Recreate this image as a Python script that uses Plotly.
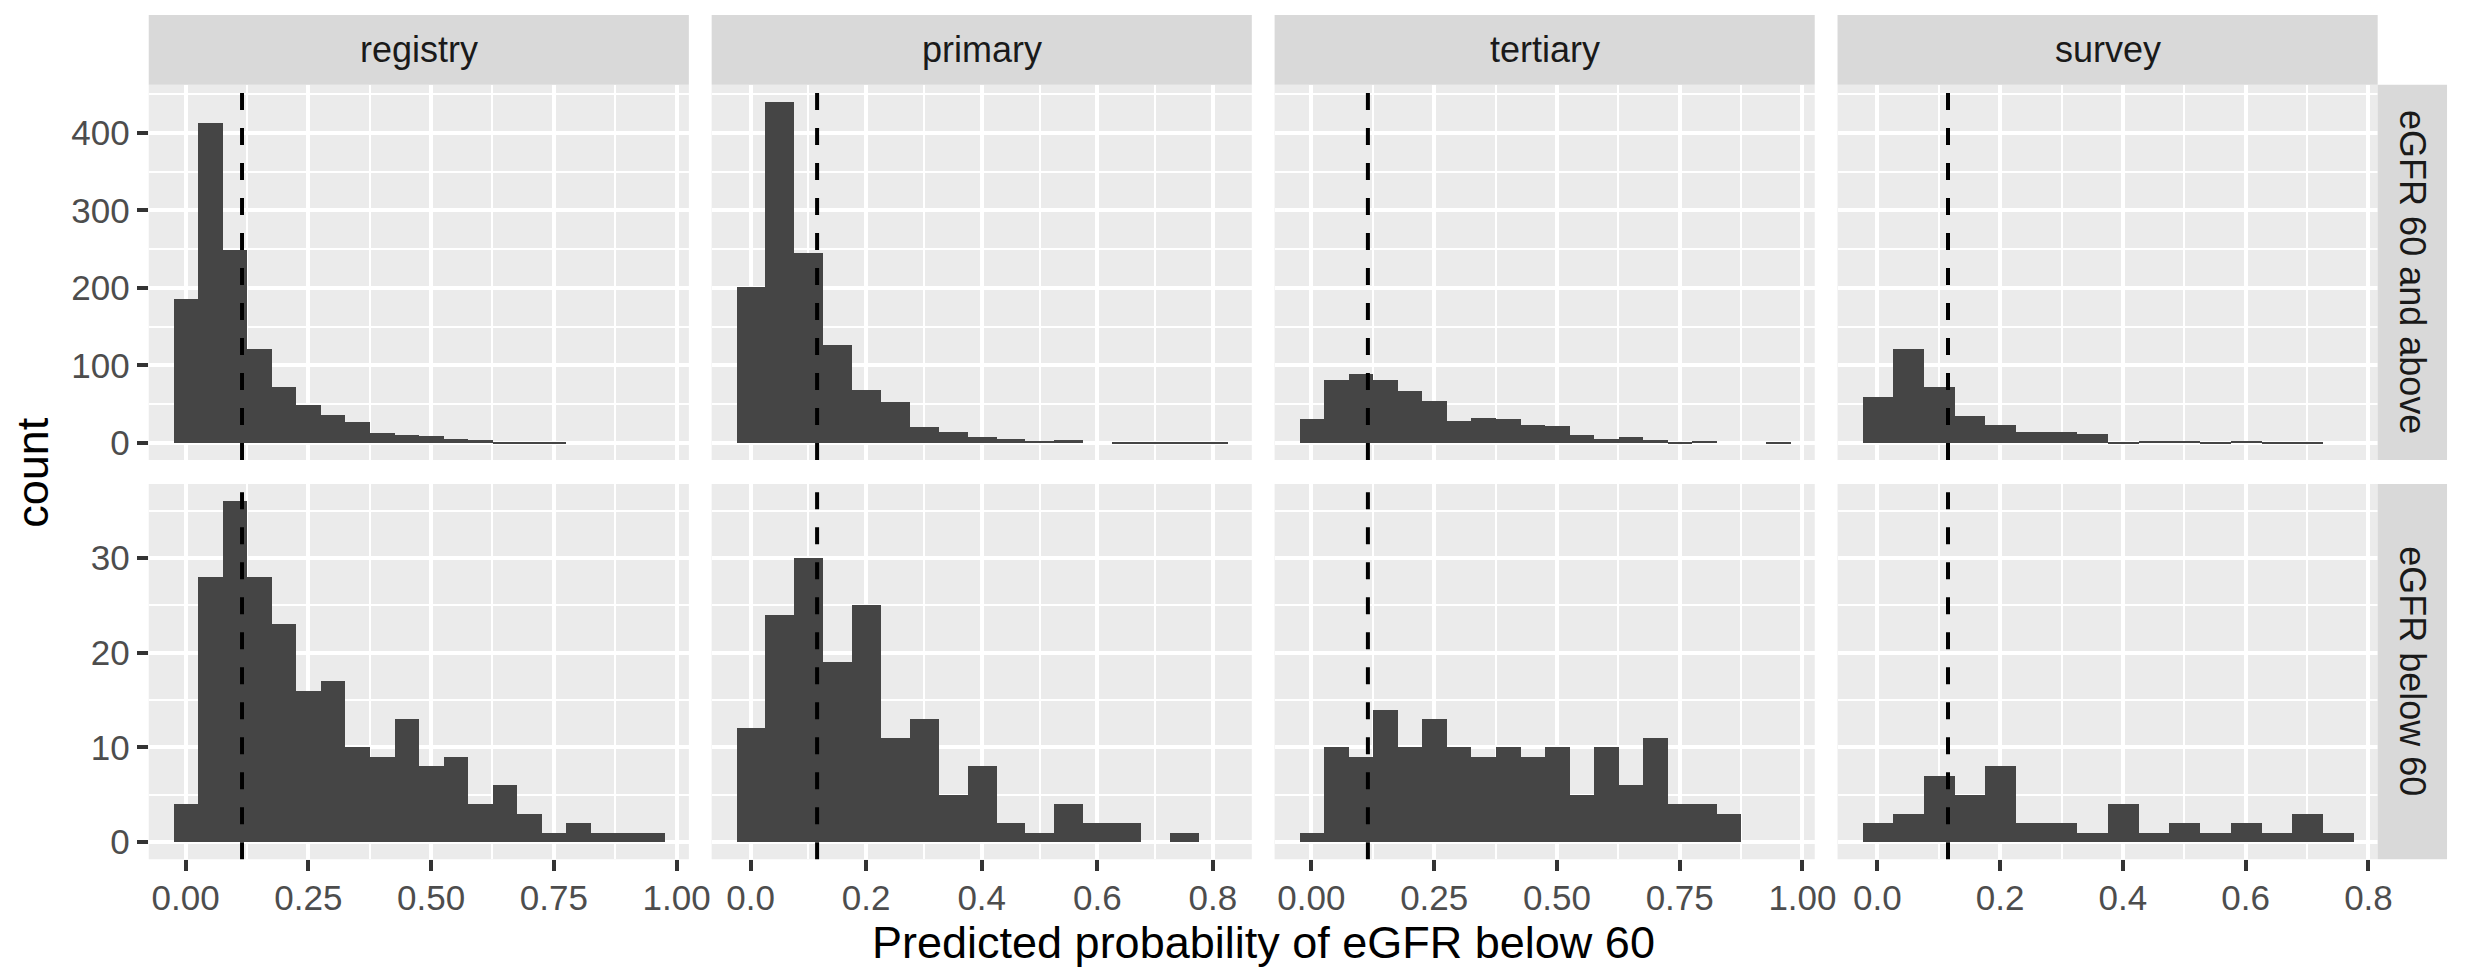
import plotly.graph_objects as go

W, H = 2466, 970

SITES = ['registry', 'primary', 'tertiary', 'survey']
GROUPS = ['eGFR 60 and above', 'eGFR below 60']
BIN_CENTERS = [0.00, 0.05, 0.10, 0.15, 0.20, 0.25, 0.30, 0.35, 0.40, 0.45,
               0.50, 0.55, 0.60, 0.65, 0.70, 0.75, 0.80, 0.85, 0.90, 0.95]
CUTOFF = 0.115

# histogram counts per bin (bin width 0.05)
registry_above = [186, 413, 249, 122, 72, 49, 36, 27, 13, 11, 9, 6, 4, 1, 2, 1]
registry_below = [4, 28, 36, 28, 23, 16, 17, 10, 9, 13, 8, 9, 4, 6, 3, 1, 2, 1, 1, 1]
primary_above = [201, 440, 245, 127, 68, 53, 21, 14, 8, 6, 3, 4, 0, 1, 1, 2, 1]
primary_below = [12, 24, 30, 19, 25, 11, 13, 5, 8, 2, 1, 4, 2, 2, 0, 1]
tertiary_above = [31, 82, 89, 81, 67, 55, 28, 33, 31, 23, 22, 10, 6, 8, 4, 1, 3, 0, 0, 1]
tertiary_below = [1, 10, 9, 14, 10, 13, 10, 9, 10, 9, 10, 5, 10, 6, 11, 4, 4, 3]
survey_above = [59, 122, 72, 35, 23, 14, 15, 12, 1, 3, 3, 1, 3, 1, 2]
survey_below = [2, 3, 7, 5, 8, 2, 2, 1, 4, 1, 2, 1, 2, 1, 3, 1]

COUNTS = [
	[registry_above, primary_above, tertiary_above, survey_above],
	[registry_below, primary_below, tertiary_below, survey_below],
]

# x tick labels per column (free x scales)
X_TICKS_WIDE = [0.0, 0.25, 0.5, 0.75, 1.0]
X_LABELS_WIDE = ['0.00', '0.25', '0.50', '0.75', '1.00']
X_MINOR_WIDE = [0.125, 0.375, 0.625, 0.875]
X_TICKS_NARROW = [0.0, 0.2, 0.4, 0.6, 0.8]
X_LABELS_NARROW = ['0.0', '0.2', '0.4', '0.6', '0.8']
X_MINOR_NARROW = [0.1, 0.3, 0.5, 0.7]

Y_TICKS_TOP = [0, 100, 200, 300, 400]
Y_MINOR_TOP = [50, 150, 250, 350, 450]
Y_TICKS_BOTTOM = [0, 10, 20, 30]
Y_MINOR_BOTTOM = [5, 15, 25, 35]

FONT = 'Liberation Sans, Arial, Helvetica, sans-serif'
BAR_COLOR = '#454545'
PANEL_BG = '#EBEBEB'
STRIP_BG = '#D9D9D9'
TICK_COLOR = '#333333'
TICK_SIZE = 35
STRIP_SIZE = 36
TITLE_SIZE = 45

# panel boxes in pixels
COL_X = [(142, 687), (710, 1255), (1278, 1823), (1846, 2391)]
ROW_Y = [(77, 453), (477, 853)]
STRIP_TOP = (7, 77)
STRIP_RIGHT = (2391, 2461)


def px_x(a):
	return a / W


def px_y(a):
	return 1 - a / H


def x_range(col):
	''' ggplot style 5% expansion around the bars of this column. '''
	n = max(len(COUNTS[0][col]), len(COUNTS[1][col]))
	lo = BIN_CENTERS[0] - 0.025
	hi = BIN_CENTERS[n - 1] + 0.025
	pad = (hi - lo) * 0.05
	return [lo - pad, hi + pad]


def y_range(row):
	top = max(max(c) for c in COUNTS[row])
	return [-0.05 * top, top * 1.05]


fig = go.Figure()
shapes = []
annotations = []

for r in range(2):
	for c in range(4):
		n = r * 4 + c + 1
		suffix = '' if n == 1 else str(n)
		counts = COUNTS[r][c]
		fig.add_trace(go.Bar(
			x=BIN_CENTERS[:len(counts)],
			y=counts,
			width=0.05,
			marker=dict(color=BAR_COLOR, line=dict(width=0)),
			xaxis='x' + suffix,
			yaxis='y' + suffix,
			showlegend=False,
			hoverinfo='x+y',
		))
		wide = c in (0, 2)
		fig.layout['xaxis' + suffix] = dict(
			domain=[px_x(COL_X[c][0]), px_x(COL_X[c][1])],
			anchor='y' + suffix,
			range=x_range(c),
			tickvals=X_TICKS_WIDE if wide else X_TICKS_NARROW,
			ticktext=X_LABELS_WIDE if wide else X_LABELS_NARROW,
			showticklabels=(r == 1),
			ticks='outside' if r == 1 else '',
			ticklen=11, tickwidth=4, tickcolor=TICK_COLOR,
			ticklabelstandoff=-3,
			tickfont=dict(family=FONT, size=TICK_SIZE, color='#4D4D4D'),
			showgrid=True, gridcolor='white', gridwidth=4,
			minor=dict(tickvals=X_MINOR_WIDE if wide else X_MINOR_NARROW,
				showgrid=True, gridcolor='white', gridwidth=2, ticks=''),
			zeroline=False, showline=False, fixedrange=True,
		)
		fig.layout['yaxis' + suffix] = dict(
			domain=[px_y(ROW_Y[r][1]), px_y(ROW_Y[r][0])],
			anchor='x' + suffix,
			range=y_range(r),
			tickvals=Y_TICKS_TOP if r == 0 else Y_TICKS_BOTTOM,
			showticklabels=(c == 0),
			ticks='outside' if c == 0 else '',
			ticklen=11, tickwidth=4, tickcolor=TICK_COLOR,
			tickfont=dict(family=FONT, size=TICK_SIZE, color='#4D4D4D'),
			showgrid=True, gridcolor='white', gridwidth=4,
			minor=dict(tickvals=Y_MINOR_TOP if r == 0 else Y_MINOR_BOTTOM,
				showgrid=True, gridcolor='white', gridwidth=2, ticks=''),
			zeroline=False, showline=False, fixedrange=True,
		)
		# panel background
		shapes.append(dict(type='rect', xref='paper', yref='paper', layer='below',
			x0=px_x(COL_X[c][0]), x1=px_x(COL_X[c][1]),
			y0=px_y(ROW_Y[r][1]), y1=px_y(ROW_Y[r][0]),
			fillcolor=PANEL_BG, line=dict(width=0)))
		# cutoff line
		shapes.append(dict(type='line', xref='x' + suffix, yref='y' + suffix + ' domain',
			x0=CUTOFF, x1=CUTOFF, y0=0, y1=1, layer='above',
			line=dict(color='black', width=4, dash='17px,18px')))

# column strips
for c, site in enumerate(SITES):
	shapes.append(dict(type='rect', xref='paper', yref='paper',
		x0=px_x(COL_X[c][0]), x1=px_x(COL_X[c][1]),
		y0=px_y(STRIP_TOP[1]), y1=px_y(STRIP_TOP[0]),
		fillcolor=STRIP_BG, line=dict(width=0)))
	annotations.append(dict(text=site, xref='paper', yref='paper', showarrow=False,
		x=px_x(sum(COL_X[c]) / 2), y=px_y(sum(STRIP_TOP) / 2),
		xanchor='center', yanchor='middle',
		font=dict(family=FONT, size=STRIP_SIZE, color='#1A1A1A')))

# row strips
for r, group in enumerate(GROUPS):
	shapes.append(dict(type='rect', xref='paper', yref='paper',
		x0=px_x(STRIP_RIGHT[0]), x1=px_x(STRIP_RIGHT[1]),
		y0=px_y(ROW_Y[r][1]), y1=px_y(ROW_Y[r][0]),
		fillcolor=STRIP_BG, line=dict(width=0)))
	annotations.append(dict(text=group, xref='paper', yref='paper', showarrow=False,
		x=px_x(sum(STRIP_RIGHT) / 2), y=px_y(sum(ROW_Y[r]) / 2),
		xanchor='center', yanchor='middle', textangle=90,
		font=dict(family=FONT, size=STRIP_SIZE, color='#1A1A1A')))

# axis titles
annotations.append(dict(text='count', xref='paper', yref='paper', showarrow=False,
	x=px_x(24), y=px_y((ROW_Y[0][0] + ROW_Y[1][1]) / 2),
	xanchor='center', yanchor='middle', textangle=-90,
	font=dict(family=FONT, size=TITLE_SIZE, color='black')))
annotations.append(dict(text='Predicted probability of eGFR below 60', xref='paper', yref='paper',
	showarrow=False, x=px_x((COL_X[0][0] + COL_X[3][1]) / 2), y=px_y(936),
	xanchor='center', yanchor='middle',
	font=dict(family=FONT, size=TITLE_SIZE, color='black')))

fig.update_layout(
	width=W, height=H,
	margin=dict(l=0, r=0, t=0, b=0),
	paper_bgcolor='white', plot_bgcolor='rgba(0,0,0,0)',
	bargap=0, barmode='overlay',
	shapes=shapes, annotations=annotations,
	showlegend=False,
)

fig.write_html('out.html')
